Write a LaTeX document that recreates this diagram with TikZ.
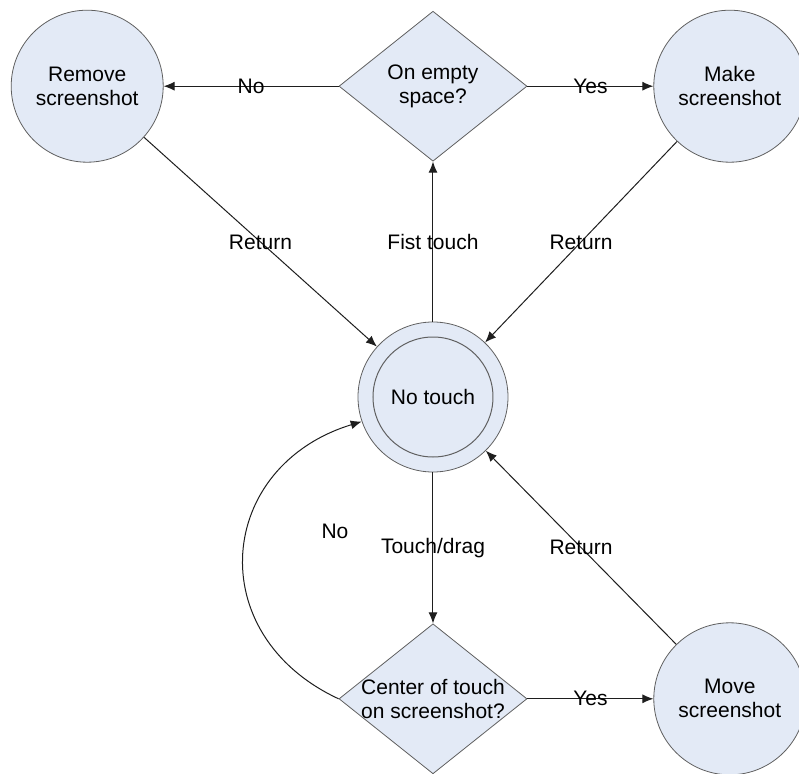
\documentclass[tikz,border=0pt]{standalone}
\usepackage{fontspec}
\setmainfont{Liberation Sans}
\usetikzlibrary{arrows.meta}
\usetikzlibrary{positioning}
\usetikzlibrary{shapes.geometric}

\definecolor{statefill}{RGB}{227,234,246}
\definecolor{stateline}{RGB}{96,96,96}
\definecolor{arrowline}{RGB}{30,30,30}

\tikzset{
  state/.style={draw=stateline,fill=statefill,circle,minimum size=76pt,inner sep=0pt,align=center},
  decision/.style={draw=stateline,fill=statefill,diamond,aspect=1.25,minimum width=94pt,minimum height=75pt,inner sep=0pt,align=center},
}

\begin{document}
\begin{tikzpicture}[font=\fontsize{10.5}{12}\selectfont]

  \useasboundingbox (-216.5pt,198.5pt) rectangle (183pt,-188pt);

  \node [state,minimum size=75pt] (notouch) at (0,0) {No touch};
  \node [decision,above=80pt of notouch] (onempty) {On empty\\space?};
  \node [state,left=87.5pt of onempty] (remove) {Remove\\screenshot};
  \node [state,right=63pt of onempty] (make) {Make\\screenshot};
  \node [decision,inner xsep=-4pt,below=75.5pt of notouch] (oncenter) {Center of touch\\on screenshot?};
  \node [state,right=63pt of oncenter] (move) {Move\\screenshot};

  % inner ring of the start state
  \draw [draw=stateline,line width=0.5pt] (notouch) circle [radius=30pt];

  \path [line width=0.5pt,-{Latex[length=5.5pt,width=4.5pt]},every edge/.append style={draw=arrowline}]
    (onempty)       edge node {No} (remove)
    (onempty)       edge node {Yes} (make)
    (remove)        edge node {Return} (notouch)
    (make)          edge node {Return} (notouch)
    (notouch)       edge node {Fist touch} (onempty)
    (notouch)       edge node {Touch/drag} (oncenter)
    (oncenter)      edge node {Yes} (move)
    (move)          edge node {Return} (notouch)
    (oncenter.west) edge [out=155,in=197,looseness=1.4] node [xshift=45.5pt,yshift=10.5pt] {No} (notouch.199);

\end{tikzpicture}
\end{document}
